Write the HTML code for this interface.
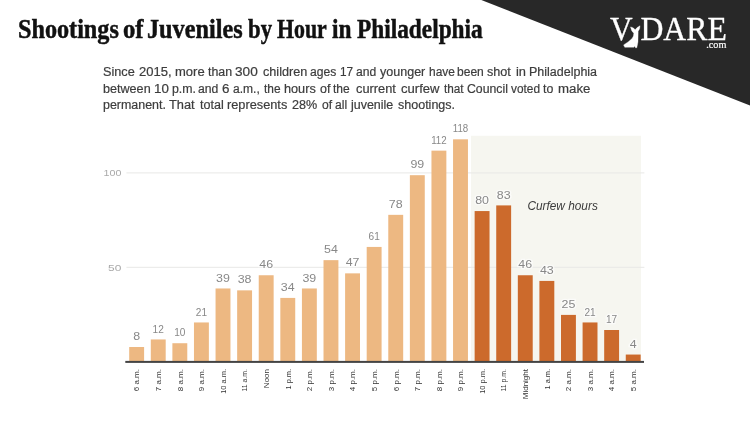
<!DOCTYPE html>
<html><head><meta charset="utf-8"><title>Shootings of Juveniles by Hour in Philadelphia</title>
<style>
html,body{margin:0;padding:0;background:#fff;}
body{width:750px;height:422px;position:relative;overflow:hidden;font-family:"Liberation Sans",sans-serif;}
#title{position:absolute;left:0;top:11.3px;margin:0;font-family:"Liberation Serif",serif;font-weight:bold;font-size:27.7px;line-height:36px;color:#111;white-space:nowrap;-webkit-text-stroke:0.5px #111;}
#title span{position:absolute;top:0;transform-origin:0 0;display:block;}
#sub{position:absolute;left:103.2px;top:64.4px;margin:0;font-size:12px;line-height:16.3px;color:#3d3d3d;white-space:nowrap;}
#sub .sl{position:absolute;left:0;height:16.3px;}
#sub span{position:absolute;top:0;display:block;transform-origin:0 0;-webkit-text-stroke:0.2px #3d3d3d;}
svg{position:absolute;left:0;top:0;}
svg text{font-family:"Liberation Sans",sans-serif;}
</style></head><body>
<svg width="750" height="422" viewBox="0 0 750 422">
<polygon points="481.3,0 750,0 750,105.6" fill="#282828"/>
<rect x="471" y="135.8" width="170" height="225.5" fill="#f6f6f0"/>
<rect x="126.4" y="172.4" width="518" height="1" fill="#e8e8e6"/>
<rect x="126.4" y="266.8" width="518" height="1" fill="#e8e8e6"/>
<text x="103.5" y="176.3" font-size="9.8" fill="#aaa" textLength="17.9" lengthAdjust="spacingAndGlyphs">100</text>
<text x="108" y="270.8" font-size="9.8" fill="#aaa" textLength="13.3" lengthAdjust="spacingAndGlyphs">50</text>

<rect x="129.20" y="347.00" width="14.9" height="14.40" fill="#edb882"/>
<text x="133.20" y="340.10" font-size="10" fill="#888" textLength="6.9" lengthAdjust="spacingAndGlyphs" stroke="#fff" stroke-opacity="0.6" stroke-width="2.5" paint-order="stroke">8</text>
<text transform="translate(139.45,369) rotate(-90)" font-size="8" fill="#333" text-anchor="end">6 a.m.</text>
<rect x="150.79" y="339.44" width="14.9" height="21.96" fill="#edb882"/>
<text x="152.64" y="332.54" font-size="10" fill="#888" textLength="11.2" lengthAdjust="spacingAndGlyphs" stroke="#fff" stroke-opacity="0.6" stroke-width="2.5" paint-order="stroke">12</text>
<text transform="translate(161.04,369) rotate(-90)" font-size="8" fill="#333" text-anchor="end">7 a.m.</text>
<rect x="172.38" y="343.22" width="14.9" height="18.18" fill="#edb882"/>
<text x="174.23" y="336.32" font-size="10" fill="#888" textLength="11.2" lengthAdjust="spacingAndGlyphs" stroke="#fff" stroke-opacity="0.6" stroke-width="2.5" paint-order="stroke">10</text>
<text transform="translate(182.63,369) rotate(-90)" font-size="8" fill="#333" text-anchor="end">8 a.m.</text>
<rect x="193.97" y="322.45" width="14.9" height="38.95" fill="#edb882"/>
<text x="195.82" y="315.55" font-size="10" fill="#888" textLength="11.2" lengthAdjust="spacingAndGlyphs" stroke="#fff" stroke-opacity="0.6" stroke-width="2.5" paint-order="stroke">21</text>
<text transform="translate(204.22,369) rotate(-90)" font-size="8" fill="#333" text-anchor="end">9 a.m.</text>
<rect x="215.56" y="288.47" width="14.9" height="72.93" fill="#edb882"/>
<text x="216.11" y="281.57" font-size="10" fill="#888" textLength="13.8" lengthAdjust="spacingAndGlyphs" stroke="#fff" stroke-opacity="0.6" stroke-width="2.5" paint-order="stroke">39</text>
<text transform="translate(225.81,369) rotate(-90)" font-size="8" fill="#333" text-anchor="end" textLength="24.8" lengthAdjust="spacingAndGlyphs">10 a.m.</text>
<rect x="237.15" y="290.36" width="14.9" height="71.04" fill="#edb882"/>
<text x="237.70" y="283.46" font-size="10" fill="#888" textLength="13.8" lengthAdjust="spacingAndGlyphs" stroke="#fff" stroke-opacity="0.6" stroke-width="2.5" paint-order="stroke">38</text>
<text transform="translate(247.40,369) rotate(-90)" font-size="8" fill="#333" text-anchor="end" textLength="22.6" lengthAdjust="spacingAndGlyphs">11 a.m.</text>
<rect x="258.74" y="275.25" width="14.9" height="86.15" fill="#edb882"/>
<text x="259.29" y="268.35" font-size="10" fill="#888" textLength="13.8" lengthAdjust="spacingAndGlyphs" stroke="#fff" stroke-opacity="0.6" stroke-width="2.5" paint-order="stroke">46</text>
<text transform="translate(268.99,369) rotate(-90)" font-size="8" fill="#333" text-anchor="end">Noon</text>
<rect x="280.33" y="297.91" width="14.9" height="63.49" fill="#edb882"/>
<text x="280.88" y="291.01" font-size="10" fill="#888" textLength="13.8" lengthAdjust="spacingAndGlyphs" stroke="#fff" stroke-opacity="0.6" stroke-width="2.5" paint-order="stroke">34</text>
<text transform="translate(290.58,369) rotate(-90)" font-size="8" fill="#333" text-anchor="end" textLength="20.4" lengthAdjust="spacingAndGlyphs">1 p.m.</text>
<rect x="301.92" y="288.47" width="14.9" height="72.93" fill="#edb882"/>
<text x="302.47" y="281.57" font-size="10" fill="#888" textLength="13.8" lengthAdjust="spacingAndGlyphs" stroke="#fff" stroke-opacity="0.6" stroke-width="2.5" paint-order="stroke">39</text>
<text transform="translate(312.17,369) rotate(-90)" font-size="8" fill="#333" text-anchor="end">2 p.m.</text>
<rect x="323.51" y="260.15" width="14.9" height="101.25" fill="#edb882"/>
<text x="324.06" y="253.25" font-size="10" fill="#888" textLength="13.8" lengthAdjust="spacingAndGlyphs" stroke="#fff" stroke-opacity="0.6" stroke-width="2.5" paint-order="stroke">54</text>
<text transform="translate(333.76,369) rotate(-90)" font-size="8" fill="#333" text-anchor="end">3 p.m.</text>
<rect x="345.10" y="273.36" width="14.9" height="88.04" fill="#edb882"/>
<text x="345.65" y="266.46" font-size="10" fill="#888" textLength="13.8" lengthAdjust="spacingAndGlyphs" stroke="#fff" stroke-opacity="0.6" stroke-width="2.5" paint-order="stroke">47</text>
<text transform="translate(355.35,369) rotate(-90)" font-size="8" fill="#333" text-anchor="end">4 p.m.</text>
<rect x="366.69" y="246.93" width="14.9" height="114.47" fill="#edb882"/>
<text x="368.54" y="240.03" font-size="10" fill="#888" textLength="11.2" lengthAdjust="spacingAndGlyphs" stroke="#fff" stroke-opacity="0.6" stroke-width="2.5" paint-order="stroke">61</text>
<text transform="translate(376.94,369) rotate(-90)" font-size="8" fill="#333" text-anchor="end">5 p.m.</text>
<rect x="388.28" y="214.84" width="14.9" height="146.56" fill="#edb882"/>
<text x="388.83" y="207.94" font-size="10" fill="#888" textLength="13.8" lengthAdjust="spacingAndGlyphs" stroke="#fff" stroke-opacity="0.6" stroke-width="2.5" paint-order="stroke">78</text>
<text transform="translate(398.53,369) rotate(-90)" font-size="8" fill="#333" text-anchor="end">6 p.m.</text>
<rect x="409.87" y="175.19" width="14.9" height="186.21" fill="#edb882"/>
<text x="410.42" y="168.29" font-size="10" fill="#888" textLength="13.8" lengthAdjust="spacingAndGlyphs" stroke="#fff" stroke-opacity="0.6" stroke-width="2.5" paint-order="stroke">99</text>
<text transform="translate(420.12,369) rotate(-90)" font-size="8" fill="#333" text-anchor="end">7 p.m.</text>
<rect x="431.46" y="150.64" width="14.9" height="210.76" fill="#edb882"/>
<text x="431.16" y="143.74" font-size="10" fill="#888" textLength="15.5" lengthAdjust="spacingAndGlyphs" stroke="#fff" stroke-opacity="0.6" stroke-width="2.5" paint-order="stroke">112</text>
<text transform="translate(441.71,369) rotate(-90)" font-size="8" fill="#333" text-anchor="end">8 p.m.</text>
<rect x="453.05" y="139.32" width="14.9" height="222.08" fill="#edb882"/>
<text x="452.75" y="132.42" font-size="10" fill="#888" textLength="15.5" lengthAdjust="spacingAndGlyphs" stroke="#fff" stroke-opacity="0.6" stroke-width="2.5" paint-order="stroke">118</text>
<text transform="translate(463.30,369) rotate(-90)" font-size="8" fill="#333" text-anchor="end">9 p.m.</text>
<rect x="474.64" y="211.06" width="14.9" height="150.34" fill="#cc6a2c"/>
<text x="475.19" y="204.16" font-size="10" fill="#888" textLength="13.8" lengthAdjust="spacingAndGlyphs" stroke="#fff" stroke-opacity="0.6" stroke-width="2.5" paint-order="stroke">80</text>
<text transform="translate(484.89,369) rotate(-90)" font-size="8" fill="#333" text-anchor="end" textLength="24.8" lengthAdjust="spacingAndGlyphs">10 p.m.</text>
<rect x="496.23" y="205.40" width="14.9" height="156.00" fill="#cc6a2c"/>
<text x="496.78" y="198.50" font-size="10" fill="#888" textLength="13.8" lengthAdjust="spacingAndGlyphs" stroke="#fff" stroke-opacity="0.6" stroke-width="2.5" paint-order="stroke">83</text>
<text transform="translate(506.48,369) rotate(-90)" font-size="8" fill="#333" text-anchor="end" textLength="22.6" lengthAdjust="spacingAndGlyphs">11 p.m.</text>
<rect x="517.82" y="275.25" width="14.9" height="86.15" fill="#cc6a2c"/>
<text x="518.37" y="268.35" font-size="10" fill="#888" textLength="13.8" lengthAdjust="spacingAndGlyphs" stroke="#fff" stroke-opacity="0.6" stroke-width="2.5" paint-order="stroke">46</text>
<text transform="translate(528.07,369) rotate(-90)" font-size="8" fill="#333" text-anchor="end">Midnight</text>
<rect x="539.41" y="280.92" width="14.9" height="80.48" fill="#cc6a2c"/>
<text x="539.96" y="274.02" font-size="10" fill="#888" textLength="13.8" lengthAdjust="spacingAndGlyphs" stroke="#fff" stroke-opacity="0.6" stroke-width="2.5" paint-order="stroke">43</text>
<text transform="translate(549.66,369) rotate(-90)" font-size="8" fill="#333" text-anchor="end" textLength="20.4" lengthAdjust="spacingAndGlyphs">1 a.m.</text>
<rect x="561.00" y="314.90" width="14.9" height="46.50" fill="#cc6a2c"/>
<text x="561.55" y="308.00" font-size="10" fill="#888" textLength="13.8" lengthAdjust="spacingAndGlyphs" stroke="#fff" stroke-opacity="0.6" stroke-width="2.5" paint-order="stroke">25</text>
<text transform="translate(571.25,369) rotate(-90)" font-size="8" fill="#333" text-anchor="end">2 a.m.</text>
<rect x="582.59" y="322.45" width="14.9" height="38.95" fill="#cc6a2c"/>
<text x="584.44" y="315.55" font-size="10" fill="#888" textLength="11.2" lengthAdjust="spacingAndGlyphs" stroke="#fff" stroke-opacity="0.6" stroke-width="2.5" paint-order="stroke">21</text>
<text transform="translate(592.84,369) rotate(-90)" font-size="8" fill="#333" text-anchor="end">3 a.m.</text>
<rect x="604.18" y="330.00" width="14.9" height="31.40" fill="#cc6a2c"/>
<text x="606.03" y="323.10" font-size="10" fill="#888" textLength="11.2" lengthAdjust="spacingAndGlyphs" stroke="#fff" stroke-opacity="0.6" stroke-width="2.5" paint-order="stroke">17</text>
<text transform="translate(614.43,369) rotate(-90)" font-size="8" fill="#333" text-anchor="end">4 a.m.</text>
<rect x="625.77" y="354.55" width="14.9" height="6.85" fill="#cc6a2c"/>
<text x="629.77" y="347.65" font-size="10" fill="#888" textLength="6.9" lengthAdjust="spacingAndGlyphs" stroke="#fff" stroke-opacity="0.6" stroke-width="2.5" paint-order="stroke">4</text>
<text transform="translate(636.02,369) rotate(-90)" font-size="8" fill="#333" text-anchor="end">5 a.m.</text>
<rect x="125.3" y="360.9" width="518.7" height="2" fill="#444"/>
<text x="527.4" y="209.8" font-size="11.85" font-style="italic" fill="#3a3a3a">Curfew hours</text>
<g fill="#fff" stroke="#fff" stroke-width="0.3">
<text x="610" y="39.7" font-size="33.8" textLength="22.6" lengthAdjust="spacingAndGlyphs" style="font-family:'Liberation Serif',serif">V</text>
<text x="640.4" y="39.8" font-size="32.7" textLength="86.4" lengthAdjust="spacingAndGlyphs" style="font-family:'Liberation Serif',serif">DARE</text>
<text x="706.2" y="47.8" font-size="11" textLength="20.2" lengthAdjust="spacingAndGlyphs" stroke-width="0.2" style="font-family:'Liberation Serif',serif">.com</text>
<path stroke-width="5" stroke-linejoin="round" transform="translate(618,22) scale(0.06636)" d="M188,74 Q218,76 242,98 L258,118 Q282,80 332,56 Q334,100 304,140 L301,300 L284,388 L262,388 L254,362 L240,380 L102,382 L84,345 Q160,300 212,248 Q240,215 238,170 Q198,132 188,74 Z"/>
</g>
</svg>
<h1 id="title"><span style="left:17.63px;transform:scaleX(0.8737)">Shootings</span> <span style="left:123.31px;transform:scaleX(0.8913)">of</span> <span style="left:147.43px;transform:scaleX(0.8750)">Juveniles</span> <span style="left:248.40px;transform:scaleX(0.8207)">by</span> <span style="left:277.10px;transform:scaleX(0.7889)">Hour</span> <span style="left:332.20px;transform:scaleX(0.8435)">in</span> <span style="left:356.80px;transform:scaleX(0.8423)">Philadelphia</span></h1>
<div id="sub"><div class="sl" style="top:0.0px"><span style="left:0.04px;transform:scaleX(1.059)">Since</span> <span style="left:35.38px;transform:scaleX(1.085)">2015,</span> <span style="left:71.49px;transform:scaleX(1.084)">more</span> <span style="left:104.42px;transform:scaleX(1.031)">than</span> <span style="left:132.09px;transform:scaleX(1.136)">300</span> <span style="left:159.78px;transform:scaleX(1.055)">children</span> <span style="left:207.16px;transform:scaleX(1.010)">ages</span> <span style="left:236.36px;transform:scaleX(0.981)">17</span> <span style="left:252.67px;transform:scaleX(1.011)">and</span> <span style="left:276.78px;transform:scaleX(1.044)">younger</span> <span style="left:325.32px;transform:scaleX(0.996)">have</span> <span style="left:353.83px;transform:scaleX(1.004)">been</span> <span style="left:383.97px;transform:scaleX(1.051)">shot</span> <span style="left:412.60px;transform:scaleX(1.071)">in</span> <span style="left:425.62px;transform:scaleX(1.041)">Philadelphia</span></div>
<div class="sl" style="top:16.3px"><span style="left:-0.17px;transform:scaleX(1.050)">between</span> <span style="left:50.42px;transform:scaleX(1.110)">10</span> <span style="left:69.14px;transform:scaleX(1.027)">p.m.</span> <span style="left:95.22px;transform:scaleX(1.016)">and</span> <span style="left:118.99px;transform:scaleX(1.113)">6</span> <span style="left:129.96px;transform:scaleX(1.002)">a.m.,</span> <span style="left:160.95px;transform:scaleX(0.991)">the</span> <span style="left:181.06px;transform:scaleX(1.058)">hours</span> <span style="left:216.45px;transform:scaleX(1.038)">of</span> <span style="left:229.32px;transform:scaleX(1.001)">the</span> <span style="left:252.47px;transform:scaleX(1.067)">current</span> <span style="left:298.02px;transform:scaleX(1.089)">curfew</span> <span style="left:341.00px;transform:scaleX(0.980)">that</span> <span style="left:363.74px;transform:scaleX(1.023)">Council</span> <span style="left:407.66px;transform:scaleX(0.987)">voted</span> <span style="left:439.60px;transform:scaleX(1.029)">to</span> <span style="left:455.08px;transform:scaleX(1.103)">make</span></div>
<div class="sl" style="top:32.6px"><span style="left:-0.53px;transform:scaleX(1.036)">permanent.</span> <span style="left:66.01px;transform:scaleX(1.069)">That</span> <span style="left:96.39px;transform:scaleX(1.047)">total</span> <span style="left:124.00px;transform:scaleX(1.063)">represents</span> <span style="left:188.69px;transform:scaleX(1.049)">28%</span> <span style="left:218.61px;transform:scaleX(1.007)">of</span> <span style="left:231.41px;transform:scaleX(1.011)">all</span> <span style="left:247.74px;transform:scaleX(1.039)">juvenile</span> <span style="left:295.15px;transform:scaleX(1.043)">shootings.</span></div></div>
</body></html>
